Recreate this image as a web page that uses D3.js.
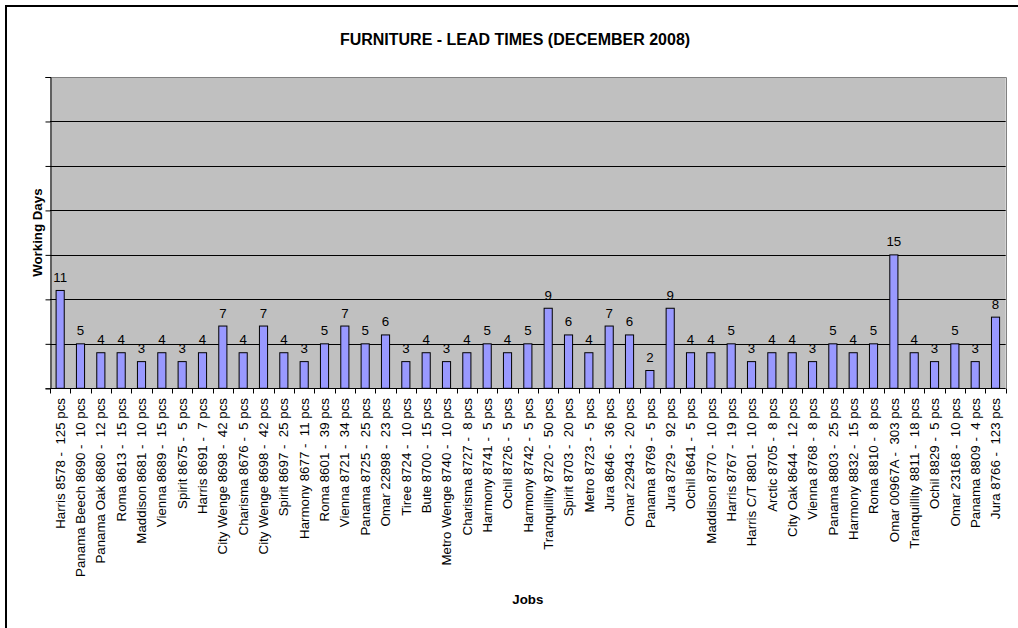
<!DOCTYPE html>
<html>
<head>
<meta charset="utf-8">
<script src="https://cdn.jsdelivr.net/npm/d3@7"></script>
<style>
  html, body { margin: 0; padding: 0; background: #fff; }
  svg { display: block; font-family: Arial, "Liberation Sans", sans-serif; }
</style>
</head>
<body>
<svg id="chart" width="1018" height="628"></svg>
<script>
// Jobs and their lead times in working days
const jobs = [
  "Harris 8578 -  125 pcs", "Panama Beech 8690 -  10 pcs", "Panama Oak 8680 -  12 pcs",
  "Roma 8613 -  15 pcs", "Maddison 8681 -  10 pcs", "Vienna 8689 -  15 pcs",
  "Spirit 8675 -  5 pcs", "Harris 8691 -  7 pcs", "City Wenge 8698 -  42 pcs",
  "Charisma 8676 -  5 pcs", "City Wenge 8698 -  42 pcs", "Spirit 8697 -  25 pcs",
  "Harmony 8677 -  11 pcs", "Roma 8601 -  39 pcs", "Vienna 8721 -  34 pcs",
  "Panama 8725 -  25 pcs", "Omar 22898 -  23 pcs", "Tiree 8724 -  10 pcs",
  "Bute 8700 -  15 pcs", "Metro Wenge 8740 -  10 pcs", "Charisma 8727 -  8 pcs",
  "Harmony 8741 -  5 pcs", "Ochil 8726 -  5 pcs", "Harmony 8742 -  5 pcs",
  "Tranquillity 8720 -  50 pcs", "Spirit 8703 -  20 pcs", "Metro 8723 -  5 pcs",
  "Jura 8646 -  36 pcs", "Omar 22943 -  20 pcs", "Panama 8769 -  5 pcs",
  "Jura 8729 -  92 pcs", "Ochil 8641 -  5 pcs", "Maddison 8770 -  10 pcs",
  "Harris 8767 -  19 pcs", "Harris C/T 8801 -  10 pcs", "Arctic 8705 -  8 pcs",
  "City Oak 8644 -  12 pcs", "Vienna 8768 -  8 pcs", "Panama 8803 -  25 pcs",
  "Harmony 8832 -  15 pcs", "Roma 8810 -  8 pcs", "Omar 00967A -  303 pcs",
  "Tranquillity 8811 -  18 pcs", "Ochil 8829 -  5 pcs", "Omar 23168 -  10 pcs",
  "Panama 8809 -  4 pcs", "Jura 8766 -  123 pcs"
];
const workingDays = [
  11, 5, 4, 4, 3, 4, 3, 4, 7, 4, 7, 4, 3, 5, 7, 5, 6, 3, 4, 3, 4, 5, 4, 5,
  9, 6, 4, 7, 6, 2, 9, 4, 4, 5, 3, 4, 4, 3, 5, 4, 5, 15, 4, 3, 5, 3, 8
];
const yTicks = [0, 5, 10, 15, 20, 25, 30, 35];

const chartTitle = "FURNITURE - LEAD TIMES (DECEMBER 2008)";
const yTitle = "Working Days";
const xTitle = "Jobs";

const svg = d3.select("#chart");
const plot = { left: 50, right: 1005.7, top: 77, bottom: 388.3 };

// outer chart frame
svg.append("rect")
  .attr("x", 6).attr("y", 6)
  .attr("width", 1100).attr("height", 1000)
  .attr("fill", "#fff").attr("stroke", "#000").attr("stroke-width", 2);

const x = d3.scaleBand().domain(d3.range(jobs.length))
  .range([plot.left, plot.right]).paddingInner(0).paddingOuter(0);
const y = d3.scaleLinear().domain([0, 35]).range([plot.bottom, plot.top]);

// plot background
svg.append("rect")
  .attr("x", plot.left).attr("y", plot.top)
  .attr("width", plot.right - plot.left).attr("height", plot.bottom - plot.top)
  .attr("fill", "#C0C0C0");

// horizontal gridlines
svg.append("g").selectAll("line")
  .data(yTicks.filter(t => t > 0 && t < 35))
  .join("line")
  .attr("x1", plot.left).attr("x2", plot.right)
  .attr("y1", d => Math.round(y(d)) + 0.5).attr("y2", d => Math.round(y(d)) + 0.5)
  .attr("stroke", "#000").attr("stroke-width", 1);

// plot border (top and right)
svg.append("path")
  .attr("d", `M${plot.left},${Math.round(plot.top) + 0.5}H${Math.round(plot.right) + 0.5}V${plot.bottom}`)
  .attr("fill", "none").attr("stroke", "#808080").attr("stroke-width", 1);

// bars
const barW = x.bandwidth() / 2.5;
svg.append("g").selectAll("rect")
  .data(workingDays)
  .join("rect")
  .attr("x", (d, i) => x(i) + (x.bandwidth() - barW) / 2)
  .attr("y", d => y(d))
  .attr("width", barW)
  .attr("height", d => y(0) - y(d))
  .attr("fill", "#9999FF")
  .attr("stroke", "#000").attr("stroke-width", 1);

// value labels
svg.append("g").selectAll("text")
  .data(workingDays)
  .join("text")
  .attr("x", (d, i) => x(i) + x.bandwidth() / 2)
  .attr("y", d => y(d) - 8.5)
  .attr("text-anchor", "middle")
  .attr("font-size", "13.3px")
  .attr("fill", "#000")
  .text(d => d);

// y axis: ticks only, no labels
const yAxis = d3.axisLeft(y).tickValues(yTicks).tickSize(5).tickFormat("");
const gy = svg.append("g")
  .attr("transform", `translate(${plot.left + 0.5},0)`)
  .call(yAxis);
gy.select(".domain").attr("stroke", "#000");
gy.selectAll(".tick line").attr("stroke", "#000");

// x axis: ticks at category boundaries
const gx = svg.append("g").attr("transform", `translate(0,${Math.round(plot.bottom) + 0.5})`);
gx.append("line")
  .attr("x1", plot.left).attr("x2", plot.right)
  .attr("stroke", "#000");
gx.selectAll("line.tk")
  .data(d3.range(jobs.length + 1))
  .join("line").attr("class", "tk")
  .attr("x1", i => Math.round(i < jobs.length ? x(i) : plot.right) + 0.5)
  .attr("x2", i => Math.round(i < jobs.length ? x(i) : plot.right) + 0.5)
  .attr("y1", 0).attr("y2", 5)
  .attr("stroke", "#000");

// rotated category labels
svg.append("g").selectAll("text")
  .data(jobs)
  .join("text")
  .attr("transform", (d, i) => `translate(${x(i) + x.bandwidth() / 2},398) rotate(-90)`)
  .attr("dy", "0.35em")
  .attr("text-anchor", "end")
  .attr("font-size", "13.3px")
  .attr("fill", "#000")
  .style("white-space", "pre")
  .text(d => d);

// titles
svg.append("text")
  .attr("x", 515).attr("y", 45)
  .attr("text-anchor", "middle")
  .attr("font-size", "16px").attr("font-weight", "bold")
  .text(chartTitle);

svg.append("text")
  .attr("transform", `translate(41.5,${(plot.top + plot.bottom) / 2}) rotate(-90)`)
  .attr("text-anchor", "middle")
  .attr("font-size", "13.3px").attr("font-weight", "bold")
  .text(yTitle);

svg.append("text")
  .attr("x", (plot.left + plot.right) / 2).attr("y", 604)
  .attr("text-anchor", "middle")
  .attr("font-size", "13.3px").attr("font-weight", "bold")
  .text(xTitle);
</script>
</body>
</html>
